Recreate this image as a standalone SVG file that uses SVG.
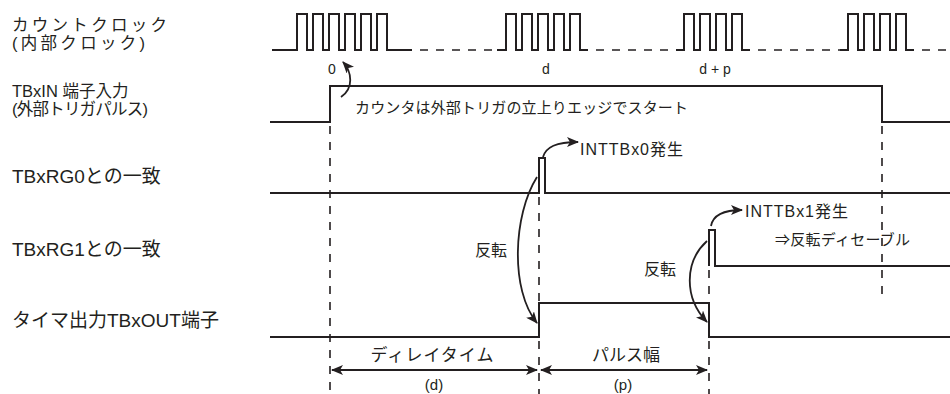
<svg xmlns="http://www.w3.org/2000/svg" width="950" height="394" viewBox="0 0 950 394">
<style>
.sig{fill:none;stroke:#231f20;stroke-width:2;stroke-linejoin:miter}
.dash{fill:none;stroke:#231f20;stroke-width:1.6;stroke-dasharray:8 8}
.arr{fill:none;stroke:#231f20;stroke-width:1.8}
text{font-family:"Liberation Sans","Noto Sans CJK JP",sans-serif;fill:#231f20}
.lbl{font-size:19px}
.lbl2{font-size:16.5px}
.t15{font-size:15px}
.t16{font-size:16px}
.t17{font-size:17px}
.t14{font-size:14px}
.mid{text-anchor:middle}
</style>
<defs>
<marker id="ah" viewBox="0 0 12 10" refX="11" refY="5" markerWidth="12" markerHeight="10" markerUnits="userSpaceOnUse" orient="auto-start-reverse">
<path d="M0,0 L12,5 L0,10 L3,5 z" fill="#231f20"/>
</marker>
</defs>

<g id="labels">
<text class="lbl2" x="12" y="31" textLength="155" lengthAdjust="spacing">カウントクロック</text>
<text class="lbl2" x="12" y="49" textLength="133" lengthAdjust="spacing">(内部クロック)</text>
<text class="lbl2" x="12" y="97">TBxIN 端子入力</text>
<text class="lbl2" x="12" y="115" textLength="136" lengthAdjust="spacing">(外部トリガパルス)</text>
<text class="lbl" x="12" y="183">TBxRG0との一致</text>
<text class="lbl" x="12" y="256">TBxRG1との一致</text>
<text class="lbl" x="12" y="327">タイマ出力TBxOUT端子</text>
</g>

<g id="clock">
<path class="sig" d="M272,50 H297 V14 H307 V50 H313 V14 H323 V50 H329 V14 H339 V50 H345 V14 H355 V50 H361 V14 H371 V50 H377 V14 H387 V50 H412"/>
<line class="dash" x1="420" y1="50" x2="500" y2="50"/>
<path class="sig" d="M497,50 H506 V14 H516 V50 H522 V14 H532 V50 H538 V14 H548 V50 H554 V14 H564 V50 H570 V14 H580 V50 H588"/>
<line class="dash" x1="596" y1="50" x2="680" y2="50"/>
<path class="sig" d="M676,50 H684 V14 H694 V50 H700 V14 H710 V50 H716 V14 H726 V50 H732 V14 H742 V50 H750"/>
<line class="dash" x1="758" y1="50" x2="844" y2="50"/>
<path class="sig" d="M840,50 H848 V14 H858 V50 H864 V14 H874 V50 H880 V14 H890 V50 H896 V14 H906 V50 H914"/>
<line class="dash" x1="922" y1="50" x2="950" y2="50"/>
<text class="t14 mid" x="332" y="74">0</text>
<text class="t14 mid" x="546" y="74">d</text>
<text class="t14 mid" x="715" y="74">d + p</text>
</g>

<g id="tbxin">
<path class="sig" d="M270,122 H330 V86 H882 V122 H950"/>
<text class="t15" x="355" y="113" textLength="333" lengthAdjust="spacing">カウンタは外部トリガの立上りエッジでスタート</text>
</g>

<g id="tbxrg0">
<path class="sig" d="M270,193 H539 V158 H545 V193 H950"/>
<text class="t16" x="580" y="155" textLength="103" lengthAdjust="spacing">INTTBx0発生</text>
</g>

<g id="tbxrg1">
<path class="sig" d="M709,266 V230 H715 V266 H950"/>
<text class="t16" x="745" y="217" textLength="103" lengthAdjust="spacing">INTTBx1発生</text>
<text class="t15" x="775" y="245" textLength="135" lengthAdjust="spacing">⇒反転ディセーブル</text>
</g>

<g id="tbxout">
<path class="sig" d="M270,337 H539 V303 H709 V337 H950"/>
<text class="t16" x="475" y="256">反転</text>
<text class="t16" x="644" y="275">反転</text>
</g>

<g id="guides">
<line class="dash" x1="330" y1="126" x2="330" y2="394"/>
<line class="dash" x1="539" y1="197" x2="539" y2="301"/>
<line class="dash" x1="539" y1="341" x2="539" y2="394"/>
<line class="dash" x1="709" y1="270" x2="709" y2="301"/>
<line class="dash" x1="709" y1="341" x2="709" y2="394"/>
<line class="dash" x1="882" y1="126" x2="882" y2="298"/>
</g>

<g id="connectors">
<path class="arr" d="M341,97 C354,88 352,72 343,62" marker-end="url(#ah)"/>
<path class="arr" d="M543,157 C546,147 556,142 578,142" marker-end="url(#ah)"/>
<path class="arr" d="M711,226 C713,215 723,210 742,210" marker-end="url(#ah)"/>
<path class="arr" d="M537,177 C513,215 510,290 537,323" marker-end="url(#ah)"/>
<path class="arr" d="M707,241 C684,262 684,298 707,322" marker-end="url(#ah)"/>
<line class="arr" x1="332" y1="370" x2="537" y2="370" marker-start="url(#ah)" marker-end="url(#ah)"/>
<line class="arr" x1="541" y1="370" x2="707" y2="370" marker-start="url(#ah)" marker-end="url(#ah)"/>
</g>

<g id="dimensions">
<text class="t17 mid" x="432" y="361" textLength="123" lengthAdjust="spacing">ディレイタイム</text>
<text class="t17 mid" x="626" y="361" textLength="68" lengthAdjust="spacing">パルス幅</text>
<text class="t15 mid" x="434" y="390">(d)</text>
<text class="t15 mid" x="623" y="390">(p)</text>
</g>
</svg>
